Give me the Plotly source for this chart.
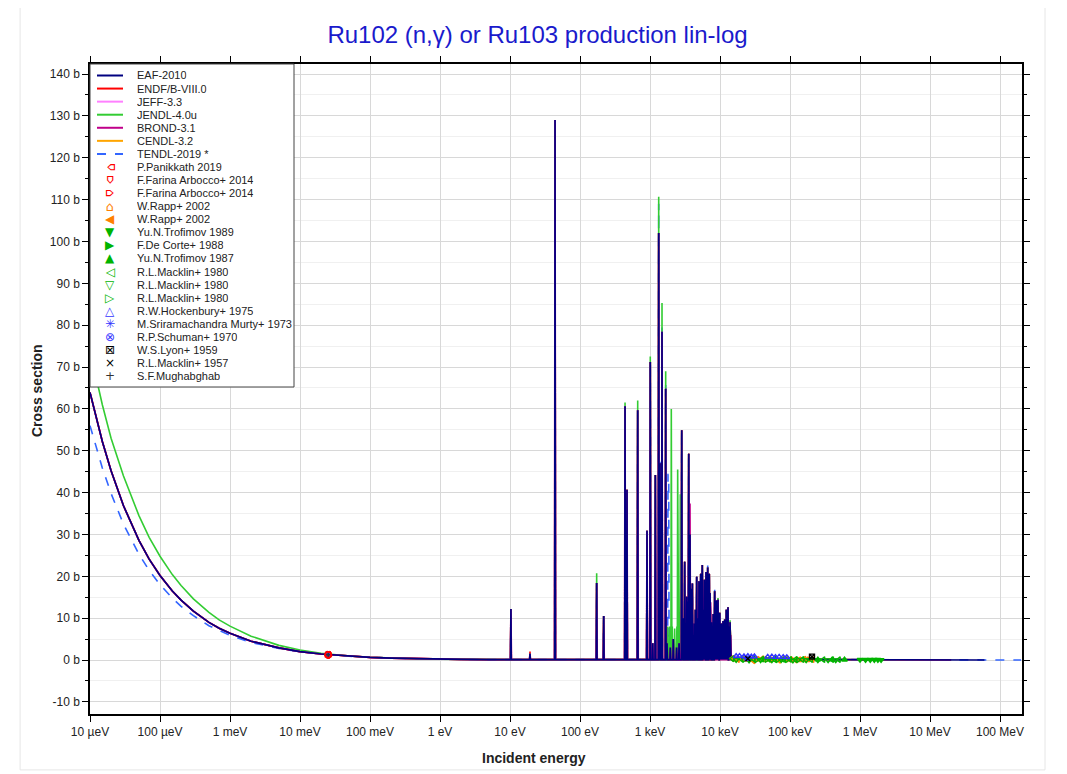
import plotly.graph_objects as go

# ---------------- data ----------------
# low-energy (1/v) region, energies in eV
low_E = [1e-5, 1.5e-5, 2e-5, 3e-5, 5e-5, 7e-5, 1e-4, 1.5e-4, 2e-4, 3e-4, 5e-4, 7e-4,
         1e-3, 2e-3, 5e-3, 1e-2, 2e-2, 5e-2, 0.1, 0.2, 0.5, 1, 2, 5]
low_common = [63.9, 52.2, 45.2, 36.9, 28.6, 24.1, 20.2, 16.5, 14.3, 11.7, 9.0, 7.6,
              6.4, 4.5, 2.9, 2.0, 1.43, 0.90, 0.64, 0.45, 0.29, 0.20, 0.14, 0.09]
low_jendl = [74.0, 61.0, 53.0, 44.0, 34.5, 29.3, 24.8, 20.4, 17.8, 14.6, 11.4, 9.6,
             8.1, 5.7, 3.5, 2.4, 1.6, 0.95, 0.66, 0.46, 0.30, 0.21, 0.15, 0.09]
low_tendl = [56.0, 45.9, 39.8, 32.5, 25.3, 21.4, 18.0, 14.8, 12.8, 10.6, 8.2, 7.0,
             5.9, 4.2, 2.75, 1.97, 1.42, 0.90, 0.64, 0.45, 0.29, 0.20, 0.14, 0.09]

# resolved resonances: energy (eV) and peak cross section (b)
res_E = [10.3, 19.3, 44, 173, 218, 440, 469, 667, 906, 1009, 1093, 1192, 1331, 1390,
         1484, 1675, 1750, 1950, 2150, 2400, 2600,
         2838, 2950, 3127, 3250, 3340, 3450, 3572, 3727, 3850, 4027, 4150, 4300, 4450,
         4645, 4850, 5012, 5150, 5297, 5450, 5585, 5750, 5970, 6100, 6310, 6500, 6670,
         6850, 7030, 7200, 7360, 7550, 7760, 8000, 8390, 8600, 8850, 9100, 9360, 9600,
         9900, 10200, 10450, 10750, 11040, 11350, 11670, 12000, 12310, 12650, 13010,
         13450, 13900, 14200]
res_peak = [12.2, 1.5, 129.0, 18.4, 10.5, 60.6, 40.7, 59.7, 30.9, 71.2, 4.0, 44.2, 102.0, 47.0,
            78.4, 64.8, 4.0, 3.0, 5.0, 3.0, 4.0,
            54.9, 10.0, 23.5, 8.0, 15.1, 14.0, 49.3, 30.0, 17.0, 18.3, 6.0, 8.7, 12.0,
            19.9, 10.0, 18.8, 14.0, 20.6, 16.0, 22.7, 12.0, 19.2, 15.0, 21.0, 17.0, 22.1,
            14.0, 20.6, 16.0, 13.8, 9.0, 7.6, 11.0, 16.4, 10.0, 14.2, 12.0, 14.4, 10.0,
            11.3, 7.0, 8.7, 8.0, 9.3, 7.0, 9.7, 9.0, 12.0, 10.0, 12.6,
            8.0, 9.0, 6.0]
res_base = 0.1

# library-specific differences (energy eV -> peak b)
endf_E = [19.3]
endf_peak = [2.0]
jendl_E = [173, 440, 667, 1009, 1331, 1484, 1675, 1780, 1900, 2014, 2080, 2250, 2420,
           2484, 2600, 2710, 9360, 13900]
jendl_peak = [20.7, 61.5, 62.0, 72.5, 110.7, 85.3, 69.0, 8.0, 8.0, 60.0, 8.0, 7.5, 8.0,
              45.5, 7.5, 39.6, 14.8, 9.5]
tendl_E = [1331, 1390, 1484, 1675, 1807, 1850, 6670, 8390]
tendl_peak = [109.0, 48.0, 80.0, 66.5, 44.5, 43.0, 22.6, 16.8]
brond_E = [3727]
brond_peak = [37.4]

# smooth high-energy region
hi_E = [1.5e4, 2e4, 3e4, 5e4, 1e5, 2e5, 5e5, 1e6, 2e6, 5e6, 1e7, 2e7]
hi_sigma = [0.35, 0.30, 0.25, 0.20, 0.15, 0.11, 0.08, 0.06, 0.03, 0.005, 0.002, 0.001]
eaf_tail_E = [6e7]
eaf_tail_sigma = [0.0005]
tendl_tail_E = [6e7, 2e8]
tendl_tail_sigma = [0.0005, 0.0003]

# experimental data
panikkath_E, panikkath_s = [0.0253], [1.25]
farina1_E, farina1_s = [0.0253], [1.28]
farina2_E, farina2_s = [0.0253], [1.22]
rapp1_E = [1.6e4, 2.1e4, 2.7e4, 3.5e4, 4.5e4, 6e4, 8e4, 1.05e5, 1.4e5, 1.8e5]
rapp1_s = [0.32, 0.30, 0.26, 0.22, 0.20, 0.17, 0.15, 0.13, 0.12, 0.11]
rapp2_E = [1.5e4, 1.8e4, 2.3e4, 3e4, 4e4, 5.2e4, 7e4, 9e4, 1.2e5, 1.6e5, 2.1e5]
rapp2_s = [0.40, 0.10, 0.35, -0.20, 0.30, 0.10, -0.10, 0.25, 0.00, 0.20, 0.10]
trof89_E = [1.0e6, 1.2e6, 1.4e6, 1.6e6, 1.8e6, 2.0e6]
trof89_s = [0.07, 0.06, 0.06, 0.05, 0.05, 0.04]
decorte_E, decorte_s = [0.0253], [1.26]
trof87_E, trof87_s = [2.5e5, 4e5, 6e5], [0.09, 0.08, 0.07]
mack80a_E = [1.5e4, 2e4, 2.5e4, 3e4, 4e4, 5e4, 6e4, 8e4, 1e5, 1.2e5, 1.5e5, 2e5, 3e5, 4e5, 5e5]
mack80a_s = [0.30, 0.28, 0.26, 0.24, 0.21, 0.19, 0.17, 0.15, 0.14, 0.13, 0.12, 0.11, 0.09, 0.08, 0.08]
mack80b_E = [1.7e4, 2.6e4, 3.8e4, 5.5e4, 7.5e4, 1.1e5, 1.7e5, 2.5e5, 3.5e5, 4.5e5]
mack80b_s = [0.05, -0.10, 0.00, -0.05, 0.02, -0.08, 0.00, -0.05, -0.03, -0.02]
mack80c_E = [2.2e4, 3.3e4, 4.6e4, 6.6e4, 9e4, 1.3e5]
mack80c_s = [0.10, 0.05, 0.08, 0.02, 0.05, 0.03]
hock_E = [1.7e4, 1.9e4, 2.2e4, 2.5e4, 2.8e4, 3.1e4, 4.8e4, 5.5e4, 6.2e4, 7e4, 8e4, 9e4]
hock_s = [0.9, 0.95, 0.85, 0.9, 0.8, 0.85, 0.75, 0.8, 0.7, 0.75, 0.7, 0.65]
murty_E, murty_s = [2.4e4], [0.4]
schuman_E, schuman_s = [0.0253], [1.3]
lyon_E, lyon_s = [2.06e5], [0.8]
mack57_E, mack57_s = [2.5e4], [0.3]
mugh_E, mugh_s = [0.0253], [1.27]

# ---------------- build ----------------
def merge(base_E, base_p, over_E, over_p):
    d = dict(zip(base_E, base_p))
    for e, p in zip(over_E, over_p):
        d[e] = p
    return sorted(d.items())


def curve(lowE, lows, res, w, extraE=(), extras=()):
    x = list(lowE)
    y = list(lows)
    for e, p in res:
        x += [e * (1 - w), e, e * (1 + w)]
        y += [res_base, p, res_base]
    x += hi_E + list(extraE)
    y += hi_sigma + list(extras)
    return x, y


# name -> color, dash, low-region, overrides, spike half-width, tail
libs = {
    "EAF-2010": ("#000080", "solid", low_common, ([], []), 0.012, (eaf_tail_E, eaf_tail_sigma)),
    "ENDF/B-VIII.0": ("#FF0000", "solid", low_common, (endf_E, endf_peak), 0.012, ([], [])),
    "JEFF-3.3": ("#FF80FF", "solid", low_common, ([], []), 0.012, ([], [])),
    "JENDL-4.0u": ("#33CC33", "solid", low_jendl, (jendl_E, jendl_peak), 0.012, ([], [])),
    "BROND-3.1": ("#C0008A", "solid", low_common, (brond_E, brond_peak), 0.02, ([], [])),
    "CENDL-3.2": ("#FFA500", "solid", low_common, ([], []), 0.012, ([], [])),
    "TENDL-2019 *": ("#3366FF", "dash", low_tendl, (tendl_E, tendl_peak), 0.012,
                     (tendl_tail_E, tendl_tail_sigma)),
}
legend_lib_order = ["EAF-2010", "ENDF/B-VIII.0", "JEFF-3.3", "JENDL-4.0u", "BROND-3.1",
                    "CENDL-3.2", "TENDL-2019 *"]
draw_order = ["CENDL-3.2", "JEFF-3.3", "ENDF/B-VIII.0", "TENDL-2019 *", "JENDL-4.0u",
              "BROND-3.1", "EAF-2010"]

fig = go.Figure()
for name in draw_order:
    color, dash, low, over, w, tail = libs[name]
    res = merge(res_E, res_peak, over[0], over[1])
    x, y = curve(low_E, low, res, w, tail[0], tail[1])
    fig.add_trace(go.Scatter(x=x, y=y, mode="lines", name=name, showlegend=False,
                             line=dict(color=color, width=1.6, dash=dash)))

# name, E, sigma, plotly symbol, angle, color, legend glyph, glyph angle, glyph size
exps = [
    ("P.Panikkath 2019", panikkath_E, panikkath_s, "pentagon-open", 270, "#FF0000", "⌂", -90, 13),
    ("F.Farina Arbocco+ 2014", farina1_E, farina1_s, "pentagon-open", 180, "#FF0000", "⌂", 180, 13),
    ("F.Farina Arbocco+ 2014", farina2_E, farina2_s, "pentagon-open", 90, "#FF0000", "⌂", 90, 13),
    ("W.Rapp+ 2002", rapp1_E, rapp1_s, "pentagon-open", 0, "#FF8000", "⌂", 0, 13),
    ("W.Rapp+ 2002", rapp2_E, rapp2_s, "triangle-left", 0, "#FF8000", "◀", 0, 12),
    ("Yu.N.Trofimov 1989", trof89_E, trof89_s, "triangle-down", 0, "#00B400", "▼", 0, 12),
    ("F.De Corte+ 1988", decorte_E, decorte_s, "triangle-right", 0, "#00B400", "▶", 0, 12),
    ("Yu.N.Trofimov 1987", trof87_E, trof87_s, "triangle-up", 0, "#00B400", "▲", 0, 12),
    ("R.L.Macklin+ 1980", mack80a_E, mack80a_s, "triangle-left-open", 0, "#00B400", "◁", 0, 12),
    ("R.L.Macklin+ 1980", mack80b_E, mack80b_s, "triangle-down-open", 0, "#00B400", "▽", 0, 12),
    ("R.L.Macklin+ 1980", mack80c_E, mack80c_s, "triangle-right-open", 0, "#00B400", "▷", 0, 12),
    ("R.W.Hockenbury+ 1975", hock_E, hock_s, "triangle-up-open", 0, "#3333FF", "△", 0, 12),
    ("M.Sriramachandra Murty+ 1973", murty_E, murty_s, "asterisk-open", 0, "#3333FF", "✳", 0, 12),
    ("R.P.Schuman+ 1970", schuman_E, schuman_s, "circle-x-open", 0, "#3333FF", "⊗", 0, 12),
    ("W.S.Lyon+ 1959", lyon_E, lyon_s, "square-x-open", 0, "#000000", "⊠", 0, 12),
    ("R.L.Macklin+ 1957", mack57_E, mack57_s, "x-thin-open", 0, "#000000", "×", 0, 12),
    ("S.F.Mughabghab", mugh_E, mugh_s, "cross-thin-open", 0, "#333333", "+", 0, 12),
]
# thermal points of other groups first, so that red ones sit on top
order = list(range(3, len(exps))) + [0, 1, 2]
for i in order:
    name, xe, ye, sym, ang, col, _, _, _ = exps[i]
    msize = 7 if col == "#FF0000" else 5
    fig.add_trace(go.Scatter(x=xe, y=ye, mode="markers", name=name, showlegend=False,
                             marker=dict(symbol=sym, angle=ang, size=msize, color=col,
                                         line=dict(color=col, width=1.4))))

# ---------------- legend box laid out in paper coordinates ----------------
PLOT_L, PLOT_T, PLOT_W, PLOT_H = 90, 64, 932, 650
def px_x(p):
    return (p - PLOT_L) / PLOT_W
def px_y(p):
    return (PLOT_T + PLOT_H - p) / PLOT_H

shapes = [dict(type="rect", xref="paper", yref="paper", x0=-0.075, x1=1.0247,
               y0=-0.086, y1=1.0908, line=dict(color="#e6e6e6", width=1), layer="below"),
          dict(type="rect", xref="paper", yref="paper", x0=px_x(90), x1=px_x(294),
               y0=px_y(387), y1=px_y(64), fillcolor="white",
               line=dict(color="#444444", width=1), layer="above")]
annotations = []
row0, row_h = 75.5, 13.07
row = 0
for name in legend_lib_order:
    color, dash, *_ = libs[name]
    yy = px_y(row0 + row_h * row)
    shapes.append(dict(type="line", xref="paper", yref="paper", x0=px_x(97), x1=px_x(123),
                       y0=yy, y1=yy, line=dict(color=color, width=2,
                                               dash="dash" if dash == "dash" else "solid"),
                       layer="above"))
    annotations.append(dict(xref="paper", yref="paper", x=px_x(135), y=yy, text=name,
                            xanchor="left", yanchor="middle", showarrow=False, height=12,
                            font=dict(size=11, color="#222222")))
    row += 1
for name, _, _, _, _, col, glyph, gang, gsize in exps:
    yy = px_y(row0 + row_h * row)
    annotations.append(dict(xref="paper", yref="paper", x=px_x(110), y=yy, text=glyph,
                            xanchor="center", yanchor="middle", showarrow=False,
                            textangle=gang, height=12, width=12,
                            font=dict(size=gsize, color=col, family="DejaVu Sans")))
    annotations.append(dict(xref="paper", yref="paper", x=px_x(135), y=yy, text=name,
                            xanchor="left", yanchor="middle", showarrow=False, height=12,
                            font=dict(size=11, color="#222222")))
    row += 1

# axis titles
annotations.append(dict(xref="paper", yref="paper", x=px_x(534), y=px_y(758),
                        text="<b>Incident energy</b>", showarrow=False,
                        xanchor="center", yanchor="middle", font=dict(size=14, color="#222222")))
annotations.append(dict(xref="paper", yref="paper", x=px_x(37), y=px_y(391),
                        text="<b>Cross section</b>", showarrow=False, textangle=-90,
                        xanchor="center", yanchor="middle", font=dict(size=14, color="#222222")))

xt_vals = [1e-5, 1e-4, 1e-3, 1e-2, 1e-1, 1, 10, 100, 1e3, 1e4, 1e5, 1e6, 1e7, 1e8]
xt_text = ["10 µeV", "100 µeV", "1 meV", "10 meV", "100 meV", "1 eV", "10 eV", "100 eV",
           "1 keV", "10 keV", "100 keV", "1 MeV", "10 MeV", "100 MeV"]
yt_vals = list(range(-10, 141, 10))
yt_text = [f"{v} b" for v in yt_vals]

# the page body adds an 8 px offset, so the figure is 8 px smaller on each side
fig.update_layout(
    width=1059, height=766,
    margin=dict(l=82, r=45, t=56, b=60),
    paper_bgcolor="white", plot_bgcolor="white",
    font=dict(family="Liberation Sans, Arial, sans-serif", size=12, color="#222222"),
    title=dict(text="Ru102 (n,γ) or Ru103 production lin-log", x=0.5, xanchor="center",
               y=1 - 27 / 766, yanchor="middle",
               font=dict(size=24, color="#1a1acc", family="Liberation Sans, Arial, sans-serif")),
    showlegend=False,
    shapes=shapes,
    annotations=annotations,
)
fig.update_xaxes(type="log", range=[-5, 8.314], tickmode="array", tickvals=xt_vals,
                 ticktext=xt_text, ticks="outside", ticklen=6, tickcolor="black",
                 showline=True, linecolor="black", linewidth=1.5, mirror="ticks",
                 showgrid=True, gridcolor="#d8d8d8", gridwidth=1, zeroline=False,
                 automargin=False)
fig.update_yaxes(range=[-12.9, 142.4], tickmode="array", tickvals=yt_vals, ticktext=yt_text,
                 ticks="outside", ticklen=6, tickcolor="black",
                 showline=True, linecolor="black", linewidth=1.5, mirror="ticks",
                 showgrid=True, gridcolor="#d8d8d8", gridwidth=1, zeroline=False,
                 automargin=False,
                 minor=dict(tickmode="linear", tick0=-15, dtick=5, ticks="outside", ticklen=3,
                            tickcolor="black", showgrid=True, gridcolor="#f0f0f0"))

fig.write_html("out.html")
